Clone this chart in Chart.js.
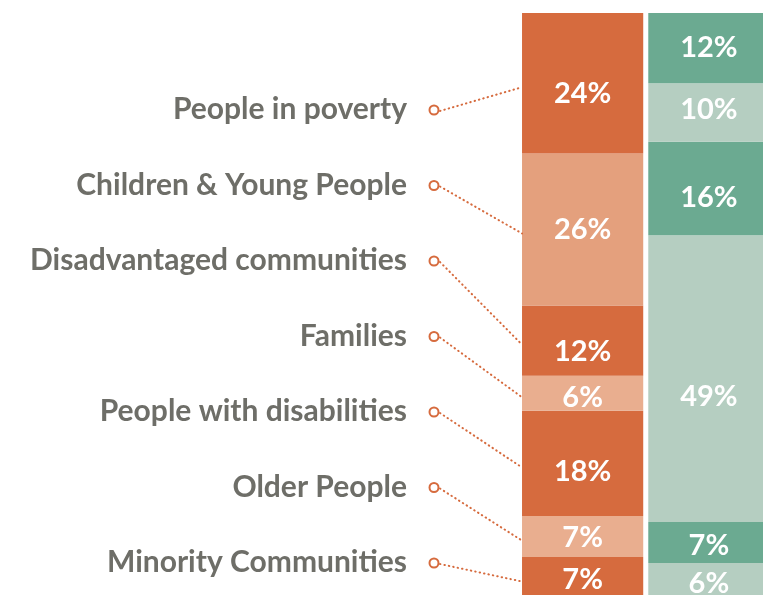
<!DOCTYPE html>
<html>
<head>
<meta charset="utf-8">
<script src="https://cdn.jsdelivr.net/npm/chart.js@4.4.0/dist/chart.umd.min.js"></script>
<style>
    html, body { margin: 0; padding: 0; background: #fff; overflow: hidden; }
    #wrap { position: absolute; left: 0; top: 0; width: 772px; height: 600px; }
</style>
</head>
<body>
<div id="wrap"><canvas id="chart"></canvas></div>
<script>
// Data
const columns = ['A', 'B'];
const categories = ['People in poverty', 'Children & Young People', 'Disadvantaged communities',
    'Families', 'People with disabilities', 'Older People', 'Minority Communities'];
const leftValues = [24, 26, 12, 6, 18, 7, 7];
const rightValues = [12, 10, 16, 49, 7, 6];

// Colours
const leftColors = ['#D66B3E', '#E4A07D', '#D66B3E', '#E9AE8F', '#D66B3E', '#E9AE8F', '#D66B3E'];
const rightColors = ['#6BAA91', '#B5CEC1', '#6BAA91', '#B5CEC1', '#6BAA91', '#B5CEC1'];
const orange = '#D66B3E';
const labelGrey = '#6E6E68';

// small vertical nudges of the value text (px), as placed in the original
const leftNudge = [9, -1, 10, 3, 7, 0, 1];
const rightNudge = [-1, -4, 8, 17, 2, 2];

// one dataset per segment, left column first
const datasets = [];
leftValues.forEach((v, i) => {
    datasets.push({ label: categories[i], data: [v, null], backgroundColor: leftColors[i], side: 'left', nudge: leftNudge[i] });
});
rightValues.forEach((v, i) => {
    datasets.push({ label: 'B' + i, data: [null, v], backgroundColor: rightColors[i], side: 'right', nudge: rightNudge[i] });
});

// Labels, value text and leader lines
const decorations = {
    id: 'decorations',
    afterDatasetsDraw(chart) {
        const ctx = chart.ctx;
        ctx.save();

        // values inside segments
        ctx.fillStyle = '#fff';
        ctx.font = 'bold 29px Lato';
        ctx.textAlign = 'center';
        ctx.textBaseline = 'middle';
        chart.data.datasets.forEach((ds, di) => {
            const meta = chart.getDatasetMeta(di);
            const idx = ds.side === 'left' ? 0 : 1;
            const bar = meta.data[idx];
            const yMid = (bar.y + bar.base) / 2;
            ctx.fillText(ds.data[idx] + '%', bar.x, yMid + 1 + ds.nudge);
        });

        // category labels + leader lines to left column
        categories.forEach((name, i) => {
            const baseline = 119 + i * 75.5;
            ctx.fillStyle = labelGrey;
            ctx.font = 'bold 30px Lato';
            ctx.textAlign = 'right';
            ctx.textBaseline = 'alphabetic';
            ctx.fillText(name, 407, baseline);

            const cx = 434, cy = baseline - 9;
            const bar = chart.getDatasetMeta(i).data[0];
            const endX = bar.x - bar.width / 2;
            const endY = (bar.y + bar.base) / 2 + 4;

            ctx.strokeStyle = orange;
            ctx.lineWidth = 2;
            ctx.setLineDash([0.5, 4]);
            ctx.lineCap = 'round';
            ctx.beginPath();
            ctx.moveTo(cx + 6, cy + 1);
            ctx.lineTo(endX, endY);
            ctx.stroke();

            ctx.setLineDash([]);
            ctx.fillStyle = '#fff';
            ctx.beginPath();
            ctx.arc(cx, cy, 4.5, 0, Math.PI * 2);
            ctx.fill();
            ctx.stroke();
        });
        ctx.restore();
    }
};

new Chart(document.getElementById('chart'), {
    type: 'bar',
    data: { labels: columns, datasets: datasets },
    options: {
        responsive: true,
        maintainAspectRatio: false,
        animation: false,
        layout: { padding: { left: 519.5, top: 13, right: 0, bottom: 2 } },
        datasets: {
            bar: { barPercentage: 0.96, categoryPercentage: 1, borderWidth: 0, skipNull: true }
        },
        plugins: {
            legend: { display: false },
            tooltip: { enabled: false }
        },
        scales: {
            x: { stacked: true, display: false },
            y: { stacked: true, display: false, reverse: true, min: 0, max: 100 }
        }
    },
    plugins: [decorations]
});
</script>
</body>
</html>
